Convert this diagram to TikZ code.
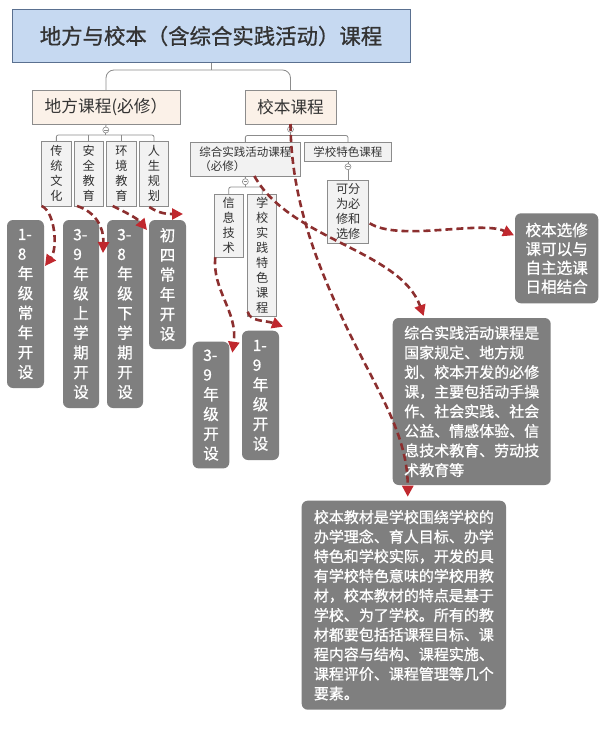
\documentclass[tikz,border=0pt]{standalone}
\usepackage{fontspec}
\setmainfont{Noto Sans CJK SC}
\newfontfamily\cjkheavy[FakeBold=0.9]{Noto Sans CJK SC}
\usetikzlibrary{arrows.meta,calc}
\definecolor{titlefill}{HTML}{C6D9F1}
\definecolor{titleline}{HTML}{5A7090}
\definecolor{peach}{HTML}{FBF1E8}
\definecolor{lightbox}{HTML}{F2F2F2}
\definecolor{boxline}{HTML}{8C8C8C}
\definecolor{darkbox}{HTML}{7F7F7F}
\definecolor{dashred}{HTML}{8C2F2F}
\definecolor{tipred}{HTML}{C0282E}
\definecolor{txt}{HTML}{333333}
\newcommand\myfs[2]{\fontsize{#1}{#2}\selectfont}
\begin{document}
\begin{tikzpicture}[x=1pt,y=-1pt,
 every node/.style={inner sep=0pt, outer sep=0pt},
 titlebox/.style={draw=titleline, line width=1pt, fill=titlefill, anchor=north west, text=txt, font=\cjkheavy\myfs{21.4}{26}},
 lvlone/.style={draw=boxline, line width=0.8pt, fill=peach, anchor=north west, text=txt, font=\myfs{16.7}{20}},
 smallbox/.style={draw=boxline, line width=0.8pt, fill=lightbox, anchor=north west, text=txt, font=\myfs{12.2}{15}, align=center},
 graybox/.style={fill=darkbox, rounded corners=6pt, anchor=north west, text=white, align=left},
 vtext/.style={graybox, font=\cjkheavy\myfs{15.5}{19.7}},
 ptext/.style={graybox, font=\cjkheavy\myfs{15}{19.6}},
 treeline/.style={draw=boxline, line width=0.8pt},
 circ/.style={circle, draw=boxline, fill=white, line width=0.6pt, minimum size=6pt,
   path picture={\draw[boxline,line width=0.5pt] ([xshift=-1.8pt]path picture bounding box.center) -- ([xshift=1.8pt]path picture bounding box.center);}},
 dasharrow/.style={draw=dashred, line width=2.6pt, dash pattern=on 7pt off 4pt,
   -{Triangle[length=11pt,width=11pt,fill=tipred,color=tipred]}},
]
\useasboundingbox (0,0) rectangle (604,736);
\fill[white] (0,0) rectangle (604,736);

% top levels
\node[titlebox, minimum width=398pt, minimum height=53pt] (title) at (12,9.5) {地方与校本（含综合实践活动）课程};
\node[lvlone, minimum width=148pt, minimum height=34pt] (dfkc) at (32,90) {地方课程(必修）};
\node[lvlone, minimum width=91pt, minimum height=34pt] (xbkc) at (245,90) {校本课程};

% second level boxes
\node[smallbox, minimum width=29.3pt, minimum height=64.3pt] (ctwh) at (41.7,141.7) {传\\统\\文\\化};
\node[smallbox, minimum width=29.3pt, minimum height=64.3pt] (aqjy) at (74,141.7) {安\\全\\教\\育};
\node[smallbox, minimum width=29.3pt, minimum height=64.3pt] (hjjy) at (106.7,141.7) {环\\境\\教\\育};
\node[smallbox, minimum width=29.3pt, minimum height=64.3pt] (rsgh) at (139.3,141.7) {人\\生\\规\\划};
\node[smallbox, align=left, font=\myfs{11.5}{14}, minimum width=110.7pt, minimum height=33.5pt] (zhsj) at (190,142.5) {综合实践活动课程\\（必修）};
\node[smallbox, font=\myfs{11.5}{14}, minimum width=87.5pt, minimum height=19pt] (xtse) at (304.2,142.7) {学校特色课程};
\node[smallbox, minimum width=29pt, minimum height=63.3pt] (xxjs) at (214.3,194) {信\\息\\技\\术};
\node[smallbox, minimum width=29pt, minimum height=122.7pt] (xxsj) at (247.7,194) {学\\校\\实\\践\\特\\色\\课\\程};
\node[smallbox, minimum width=41pt, minimum height=63.3pt] (kf) at (327.7,180) {可分\\为必\\修和\\选修};

% gray boxes
\node[vtext, minimum width=37pt, minimum height=168pt] (g1) at (7,220) {1-\\8\\年\\级\\常\\年\\开\\设};
\node[vtext, minimum width=36pt, minimum height=188pt] (g2) at (63,220) {3-\\9\\年\\级\\上\\学\\期\\开\\设};
\node[vtext, minimum width=36pt, minimum height=188pt] (g3) at (107,220) {3-\\8\\年\\级\\下\\学\\期\\开\\设};
\node[vtext, minimum width=37pt, minimum height=129pt] (g4) at (149,220) {初\\四\\常\\年\\开\\设};
\node[vtext, minimum width=36.6pt, minimum height=126.7pt] (g5) at (192.7,341.7) {3-\\9\\年\\级\\开\\设};
\node[vtext, minimum width=37pt, minimum height=129.3pt] (g6) at (242,330.7) {1-\\9\\年\\级\\开\\设};
\node[ptext, font=\cjkheavy\myfs{15.6}{18.9}, minimum width=83.3pt, minimum height=90pt] (xbxx) at (515,213.3) {校本选修\\课可以与\\自主选课\\日相结合};
\node[ptext, minimum width=158pt, minimum height=167pt] (zhbig) at (392.7,318) {综合实践活动课程是\\国家规定、地方规\\划、校本开发的必修\\课，主要包括动手操\\作、社会实践、社会\\公益、情感体验、信\\息技术教育、劳动技\\术教育等};
\node[ptext, minimum width=204.3pt, minimum height=209pt] (xbjc) at (301.7,500.7) {校本教材是学校围绕学校的\\办学理念、育人目标、办学\\特色和学校实际，开发的具\\有学校特色意味的学校用教\\材，校本教材的特点是基于\\学校、为了学校。所有的教\\材都要包括括课程目标、课\\程内容与结构、课程实施、\\课程评价、课程管理等几个\\要素。};

% tree connectors
\coordinate (j0) at (211,70);
\draw[treeline] (title.south) -- (j0);
\draw[treeline, rounded corners=8pt] (dfkc.north) |- (j0) -| (xbkc.north);

\node[circ] (c1) at (105.8,130) {};
\coordinate (h1) at (105.8,135);
\draw[treeline] (dfkc.south) -- (c1.north);
\draw[treeline] (c1.south) -- (h1);
\draw[treeline, rounded corners=2pt] (ctwh.north) |- (h1) -| (rsgh.north);
\draw[treeline] (aqjy.north) -- (aqjy.north |- h1);
\draw[treeline] (hjjy.north) -- (hjjy.north |- h1);

\node[circ] (c2) at (290.5,129.3) {};
\coordinate (h2) at (290.5,135.5);
\draw[treeline] (xbkc.south) -- (c2.north);
\draw[treeline] (c2.south) -- (h2);
\draw[treeline, rounded corners=2pt] (zhsj.north) |- (h2) -| (xtse.north);

\node[circ] (c3) at (245.35,181.7) {};
\coordinate (h3) at (245.35,187);
\draw[treeline] (zhsj.south) -- (c3.north);
\draw[treeline] (c3.south) -- (h3);
\draw[treeline, rounded corners=2pt] (xxjs.north) |- (h3) -| (xxsj.north);

\node[circ] (c4) at (347.95,166.7) {};
\draw[treeline] (xtse.south) -- (c4.north);
\draw[treeline] (c4.south) -- (c4.south |- kf.north);

% dashed arrows
\draw[dasharrow] (ctwh.south west) .. controls (55,212) and (58,248) .. ($(g1.north east)+(1,46)$);
\draw[dasharrow] ($(aqjy.south west)+(3,0)$) .. controls (96,212) and (104,228) .. ($(g2.north east)+(4,33)$);
\draw[dasharrow] ($(hjjy.south west)+(6,0)$) .. controls (125,212) and (137,218) .. ($(g4.north west)+(-2,10)$);
\draw[dasharrow] ($(rsgh.south west)+(10,1)$) .. controls (160,214) and (168,214) .. ($(g4.north east)+(-3,-6)$);
\draw[dasharrow] ($(xxjs.south west)+(1,0)$) .. controls (212,290) and (238,312) .. ($(g5.north east)+(3,11)$);
\draw[dasharrow] ($(xxsj.south west)+(0,-5)$) .. controls (250,322) and (265,320) .. ($(g6.north east)+(4,-4)$);
\draw[dasharrow] ($(kf.south east)+(1,-20)$) .. controls (400,242) and (480,220) .. ($(xbxx.north west)+(-1,22)$);
\draw[dasharrow] ($(zhsj.south)+(9,0)$) .. controls (290,240) and (400,250) .. ($(zhbig.north west)+(31,-2)$);
\draw[dasharrow] (xbkc.south) .. controls (291,200) and (318,265) .. (340,313) .. controls (370,380) and (408,430) .. ($(xbjc.north west)+(106,-4)$);
\end{tikzpicture}
\end{document}
